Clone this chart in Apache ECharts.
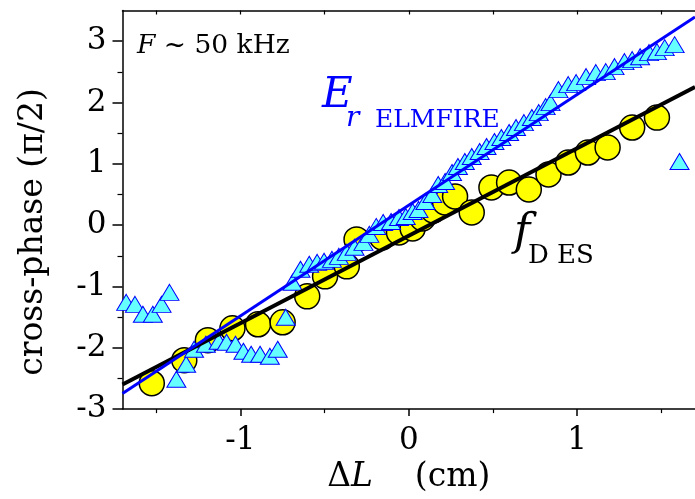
<!DOCTYPE html>
<html>
<head>
<meta charset="utf-8">
<script src="https://cdn.jsdelivr.net/npm/echarts@6/dist/echarts.min.js"></script>
<style>
html,body{margin:0;padding:0;background:#fff;}
#chart{width:695px;height:499px;}
</style>
</head>
<body>
<div id="chart"></div>
<script>
// ---- data ----
const esX = [-1.526,-1.333,-1.193,-1.047,-0.895,-0.749,-0.603,-0.497,-0.368,-0.310,-0.158,-0.058,0.023,0.082,0.146,0.216,0.275,0.374,0.491,0.596,0.713,0.830,0.947,1.064,1.181,1.327,1.474];
const esY = [-2.578,-2.203,-1.877,-1.682,-1.617,-1.584,-1.161,-0.835,-0.672,-0.233,-0.200,-0.119,-0.054,0.109,0.240,0.370,0.467,0.207,0.614,0.695,0.581,0.826,1.021,1.184,1.266,1.591,1.754];

const elmX = [-1.678,-1.626,-1.579,-1.520,-1.468,-1.421,
  -1.380,-1.322,-1.275,-1.205,-1.129,-1.082,-1.029,-0.982,-0.936,-0.883,-0.825,-0.778,-0.731,
  -0.690,-0.643,-0.591,-0.544,-0.503,-0.456,-0.415,-0.368,-0.322,-0.269,-0.234,-0.193,-0.152,-0.105,-0.058,-0.018,
  0.023,0.058,0.099,0.140,0.175,0.216,0.257,0.292,0.333,0.374,0.421,0.462,0.509,0.550,0.596,0.637,0.684,0.731,0.772,0.813,0.842,
  0.889,0.947,0.994,1.053,1.111,1.170,1.222,1.281,1.327,1.374,1.427,1.474,1.520,1.579,1.608];
const elmY = [-1.259,-1.292,-1.454,-1.454,-1.292,-1.096,
  -2.513,-2.268,-2.024,-1.943,-1.894,-1.910,-1.943,-2.057,-2.106,-2.106,-2.138,-2.024,-1.503,
  -0.932,-0.720,-0.639,-0.607,-0.590,-0.558,-0.509,-0.444,-0.362,-0.281,-0.151,-0.021,0.044,0.060,0.125,0.142,
  0.223,0.256,0.386,0.500,0.663,0.712,0.858,0.956,1.037,1.119,1.200,1.282,1.363,1.428,1.510,1.591,1.672,1.754,1.835,1.933,1.998,
  2.210,2.291,2.324,2.422,2.487,2.503,2.585,2.666,2.699,2.747,2.813,2.829,2.894,2.943,1.038];

const elmFitX = [-1.7, 1.7];
const elmFitY = [-2.746, 3.394];
const esFitX = [-1.7, 1.7];
const esFitY = [-2.600, 2.252];

const xMajorTicks = [-1, 0, 1];
const xMinorTicks = [-1.5, -0.5, 0.5, 1.5];
const xAllTicks = [-1.5, -1, -0.5, 0, 0.5, 1, 1.5];
const yMajorTicks = [-3, -2, -1, 0, 1, 2, 3];
const yMinorTicks = [-2.5, -1.5, -0.5, 0.5, 1.5, 2.5];

const yName = 'cross-phase (π/2)';

// ---- chart ----
const zip = (a, b) => a.map((v, i) => [v, b[i]]);
const FONT = '"DejaVu Serif", "Liberation Serif", serif';
const chart = echarts.init(document.getElementById('chart'), null, {renderer: 'canvas'});

const baseX = {type: 'value', min: -1.7, max: 1.7, splitLine: {show: false}, gridIndex: 0};
const baseY = {type: 'value', min: -3, max: 3.5, splitLine: {show: false}, gridIndex: 0};
const line = {show: true, onZero: false, lineStyle: {color: '#000', width: 1.5}};

chart.setOption({
  animation: false,
  backgroundColor: '#fff',
  grid: {left: 122.5, top: 10.5, width: 581.4, height: 399.5, containLabel: false},
  xAxis: [
    Object.assign({}, baseX, {
      position: 'bottom',
      axisLine: line,
      axisTick: {show: true, inside: false, length: 7, customValues: xMajorTicks, lineStyle: {color: '#000', width: 1.5}},
      axisLabel: {show: true, customValues: xMajorTicks, margin: 16, color: '#000', fontSize: 31, fontFamily: FONT},
      name: '{n|Δ}{i|L}{n|    (cm)}',
      nameLocation: 'middle',
      nameGap: 50,
      nameTextStyle: {
        color: '#000', fontSize: 33, fontFamily: FONT,
        rich: {
          n: {fontSize: 33, fontFamily: FONT, color: '#000'},
          i: {fontSize: 33, fontFamily: FONT, fontStyle: 'italic', color: '#000'}
        }
      }
    }),
    Object.assign({}, baseX, {
      position: 'bottom',
      axisLine: {show: false, onZero: false},
      axisTick: {show: true, inside: false, length: 4, customValues: xMinorTicks, lineStyle: {color: '#000', width: 1.2}},
      axisLabel: {show: false}
    }),
    Object.assign({}, baseX, {
      position: 'top',
      axisLine: line,
      axisTick: {show: true, inside: true, length: 4, customValues: xAllTicks, lineStyle: {color: '#000', width: 1.2}},
      axisLabel: {show: false}
    })
  ],
  yAxis: [
    Object.assign({}, baseY, {
      position: 'left',
      axisLine: line,
      axisTick: {show: true, inside: false, length: 10, customValues: yMajorTicks, lineStyle: {color: '#000', width: 1.5}},
      axisLabel: {show: true, customValues: yMajorTicks, margin: 16, color: '#000', fontSize: 31, fontFamily: FONT}
    }),
    Object.assign({}, baseY, {
      position: 'left',
      axisLine: {show: false, onZero: false},
      axisTick: {show: true, inside: false, length: 5, customValues: yMinorTicks, lineStyle: {color: '#000', width: 1.2}},
      axisLabel: {show: false}
    })
  ],
  series: [
    {
      name: 'f D ES', type: 'scatter', xAxisIndex: 0, yAxisIndex: 0,
      data: zip(esX, esY), symbol: 'circle', symbolSize: 25, z: 2,
      itemStyle: {color: '#ffff00', borderColor: '#000', borderWidth: 1.5, opacity: 1}
    },
    {
      name: 'Er ELMFIRE', type: 'scatter', xAxisIndex: 0, yAxisIndex: 0,
      data: zip(elmX, elmY), symbol: 'triangle', symbolSize: [19, 16], z: 3,
      itemStyle: {color: '#66ffff', borderColor: '#0000ff', borderWidth: 1, opacity: 1}
    },
    {
      name: 'fit ES', type: 'line', xAxisIndex: 0, yAxisIndex: 0,
      data: zip(esFitX, esFitY), showSymbol: false, symbol: 'none', z: 4,
      lineStyle: {color: '#000', width: 4}
    },
    {
      name: 'fit ELMFIRE', type: 'line', xAxisIndex: 0, yAxisIndex: 0,
      data: zip(elmFitX, elmFitY), showSymbol: false, symbol: 'none', z: 5,
      lineStyle: {color: '#0000ff', width: 3}
    }
  ],
  graphic: [
    {type: 'text', x: 33, y: 232, rotation: Math.PI / 2, z: 10, style: {
      text: yName, font: '33px ' + FONT, fill: '#000', verticalAlign: 'middle', align: 'center'
    }},
    {type: 'text', x: 137, y: 46, z: 10, style: {
      text: '{i|F} ~ 50 kHz', font: '26.5px ' + FONT, fill: '#000', verticalAlign: 'middle', align: 'left',
      rich: {i: {fontStyle: 'italic', fontSize: 26.5, fontFamily: FONT}}
    }},
    {type: 'text', x: 322, y: 96, z: 10, style: {text: 'E', font: 'italic 42px ' + FONT, fill: '#0000ff', verticalAlign: 'middle', align: 'left'}},
    {type: 'text', x: 346, y: 119, z: 10, style: {text: 'r', font: 'italic 28px ' + FONT, fill: '#0000ff', verticalAlign: 'middle', align: 'left'}},
    {type: 'text', x: 375, y: 120, z: 10, style: {text: 'ELMFIRE', font: '25px ' + FONT, fill: '#0000ff', verticalAlign: 'middle', align: 'left'}},
    {type: 'text', x: 514, y: 234, z: 10, style: {text: 'f', font: 'italic 44px ' + FONT, fill: '#000', verticalAlign: 'middle', align: 'left'}},
    {type: 'text', x: 528, y: 256, z: 10, style: {text: 'D ES', font: '26px ' + FONT, fill: '#000', verticalAlign: 'middle', align: 'left'}}
  ]
});
</script>
</body>
</html>
